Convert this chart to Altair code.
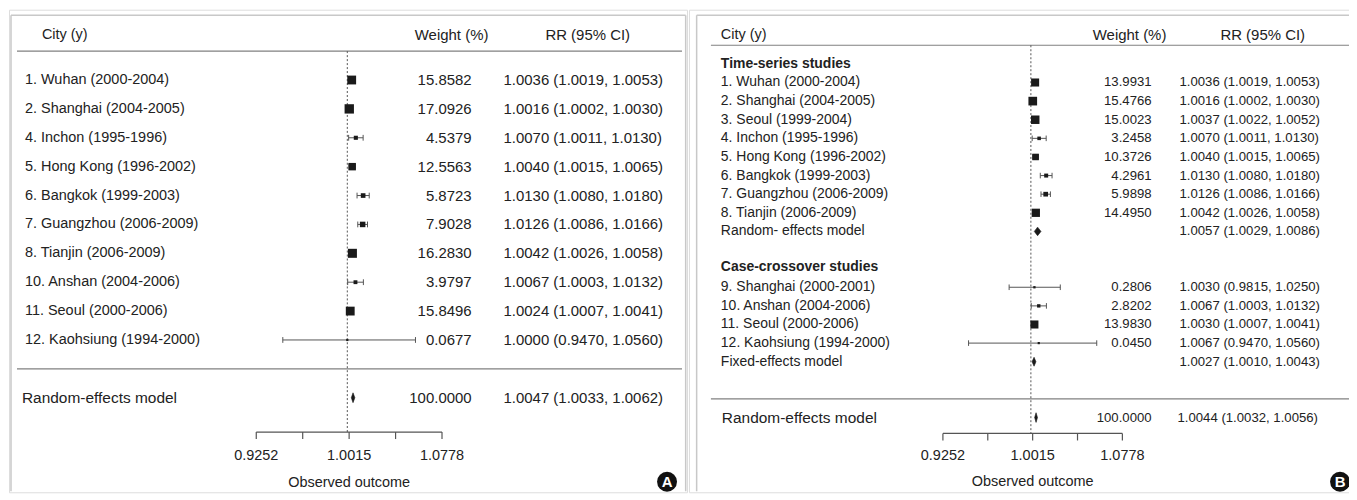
import altair as alt
import pandas as pd

FONT = "Liberation Sans, Arial, Helvetica, sans-serif"
INK = "#222222"
MARK = "#1a1a1a"
LINE = "#808080"
FRAME = "#c8c8c8"

# ---------------- shared texts ----------------
column_titles = ["City (y)", "Weight (%)", "RR (95% CI)"]
axis_ticks = [0.9252, 0.96335, 1.0015, 1.03965, 1.0778]
axis_tick_labels = ["0.9252", "", "1.0015", "", "1.0778"]
axis_title = "Observed outcome"
panel_letters = ["A", "B"]
null_value = 1.0

# ---------------- panel A ----------------
cities_a = ["1. Wuhan (2000-2004)", "2. Shanghai (2004-2005)", "4. Inchon (1995-1996)",
            "5. Hong Kong (1996-2002)", "6. Bangkok (1999-2003)", "7. Guangzhou (2006-2009)",
            "8. Tianjin (2006-2009)", "10. Anshan (2004-2006)", "11. Seoul (2000-2006)",
            "12. Kaohsiung (1994-2000)"]
weights_a = [15.8582, 17.0926, 4.5379, 12.5563, 5.8723, 7.9028, 16.2830, 3.9797, 15.8496, 0.0677]
rr_a = [1.0036, 1.0016, 1.0070, 1.0040, 1.0130, 1.0126, 1.0042, 1.0067, 1.0024, 1.0000]
lo_a = [1.0019, 1.0002, 1.0011, 1.0015, 1.0080, 1.0086, 1.0026, 1.0003, 1.0007, 0.9470]
hi_a = [1.0053, 1.0030, 1.0130, 1.0065, 1.0180, 1.0166, 1.0058, 1.0132, 1.0041, 1.0560]
overall_a_label = "Random-effects model"
overall_a_weight = 100.0
overall_a_rr = [1.0047, 1.0033, 1.0062]

# ---------------- panel B ----------------
groups_b = ["Time-series studies", "Case-crossover studies"]
cities_b1 = ["1. Wuhan (2000-2004)", "2. Shanghai (2004-2005)", "3. Seoul (1999-2004)",
             "4. Inchon (1995-1996)", "5. Hong Kong (1996-2002)", "6. Bangkok (1999-2003)",
             "7. Guangzhou (2006-2009)", "8. Tianjin (2006-2009)"]
weights_b1 = [13.9931, 15.4766, 15.0023, 3.2458, 10.3726, 4.2961, 5.9898, 14.4950]
rr_b1 = [1.0036, 1.0016, 1.0037, 1.0070, 1.0040, 1.0130, 1.0126, 1.0042]
lo_b1 = [1.0019, 1.0002, 1.0022, 1.0011, 1.0015, 1.0080, 1.0086, 1.0026]
hi_b1 = [1.0053, 1.0030, 1.0052, 1.0130, 1.0065, 1.0180, 1.0166, 1.0058]
cities_b2 = ["9. Shanghai (2000-2001)", "10. Anshan (2004-2006)", "11. Seoul (2000-2006)",
             "12. Kaohsiung (1994-2000)"]
weights_b2 = [0.2806, 2.8202, 13.9830, 0.0450]
rr_b2 = [1.0030, 1.0067, 1.0030, 1.0067]
lo_b2 = [0.9815, 1.0003, 1.0007, 0.9470]
hi_b2 = [1.0250, 1.0132, 1.0041, 1.0560]
models_b = ["Random- effects model", "Fixed-effects model"]
models_b_rr = [[1.0057, 1.0029, 1.0086], [1.0027, 1.0010, 1.0043]]
overall_b_label = "Random-effects model"
overall_b_weight = 100.0
overall_b_rr = [1.0044, 1.0032, 1.0056]


def fmt_rr(e, l, h):
    return f"{e:.4f} ({l:.4f}, {h:.4f})"


def studies(labels, w, e, l, h, rows):
    return pd.DataFrame({
        "label": labels, "w": w, "est": e, "lo": l, "hi": h, "row": rows,
        "wtxt": [f"{v:.4f}" for v in w],
        "rrtxt": [fmt_rr(a, b, c) for a, b, c in zip(e, l, h)],
    })


def diamond(name, rr, row, half):
    e, l, h = rr
    return pd.DataFrame({"m": [name] * 3, "x": [l, e, h],
                         "yt": [row, row - half, row], "yb": [row, row + half, row]})


ONE = pd.DataFrame({"k": [0]})
H = 484


def panel(P):
    xs = alt.Scale(domain=P["xdom"], nice=False, zero=False)
    ys = alt.Scale(domain=P["ydom"], nice=False, zero=False, reverse=True)

    def X(f):
        return alt.X(f, type="quantitative", scale=xs, axis=None)

    def Y(f):
        return alt.Y(f, type="quantitative", scale=ys, axis=None)

    def XD(v):
        return alt.XDatum(v, type="quantitative", scale=xs, axis=None)

    def YD(v):
        return alt.YDatum(v, type="quantitative", scale=ys, axis=None)

    layers = []
    # frame
    fr = alt.Chart(ONE).mark_rule(color=FRAME, strokeWidth=1.5)
    layers.append(fr.encode(x=alt.value(P["bl"]), y=alt.value(P["bt"]), y2=alt.value(H - 1)))
    layers.append(fr.encode(x=alt.value(P["bl"]), x2=alt.value(P["br"]), y=alt.value(P["bt"])))
    if P["right_frame"]:
        layers.append(fr.encode(x=alt.value(P["br"]), y=alt.value(P["bt"]), y2=alt.value(H - 1)))
    # header line and separator
    hl = alt.Chart(ONE).mark_rule(color=LINE, strokeWidth=1.2)
    for r in (P["r_hline"], P["r_sep"]):
        layers.append(hl.encode(x=alt.value(P["lx0"]), x2=alt.value(P["lx1"]), y=YD(r)))
    # null line
    layers.append(alt.Chart(ONE).mark_rule(color="#555555", strokeWidth=1, strokeDash=[2, 2]).encode(
        x=XD(null_value), y=YD(P["r_hline"]), y2=alt.Y2Datum(P["r_axis"])))

    df = P["df"]
    # whiskers + caps
    layers.append(alt.Chart(df).mark_rule(color="#555555", strokeWidth=1).encode(
        x=X("lo"), x2=alt.X2("hi"), y=Y("row")))
    layers.append(alt.Chart(df).transform_fold(["lo", "hi"], as_=["end", "xv"]).transform_calculate(
        y0=f"datum.row - {P['cap']}", y1=f"datum.row + {P['cap']}").mark_rule(
        color="#555555", strokeWidth=1).encode(x=X("xv"), y=Y("y0"), y2=alt.Y2("y1")))
    # squares
    layers.append(alt.Chart(df).transform_calculate(sz="pow(2.2 + 0.42*datum.w, 2)").mark_square(
        color=MARK, opacity=1).encode(x=X("est"), y=Y("row"),
                                      size=alt.Size("sz:Q", scale=None, legend=None)))
    # diamonds
    layers.append(alt.Chart(P["dia"]).mark_area(orient="vertical", color=MARK, opacity=1,
                                                 stroke=MARK, strokeWidth=0.6).encode(
        x=X("x"), y=Y("yt"), y2=alt.Y2("yb"), detail="m:N"))

    # column headers
    for txt, px, fs in zip(column_titles, P["hx"], P["hfs"]):
        layers.append(alt.Chart(pd.DataFrame({"t": [txt]})).mark_text(
            align="left", baseline="middle", font=FONT, fontSize=fs, color=INK).encode(
            x=alt.value(px), y=YD(P["r_head"]), text="t:N"))
    # study texts
    layers.append(alt.Chart(df).mark_text(align="left", baseline="middle", font=FONT,
                                          fontSize=P["lfs"], color=INK).encode(
        x=alt.value(P["lab_x"]), y=Y("row"), text="label:N"))
    layers.append(alt.Chart(df).mark_text(align="right", baseline="middle", font=FONT,
                                          fontSize=P["nfs"], color=INK).encode(
        x=alt.value(P["w_x"]), y=Y("row"), text="wtxt:N"))
    layers.append(alt.Chart(df).mark_text(align="left", baseline="middle", font=FONT,
                                          fontSize=P["nfs"], color=INK).encode(
        x=alt.value(P["rr_x"]), y=Y("row"), text="rrtxt:N"))
    # model rows (inside panel)
    if P["models"] is not None:
        md = P["models"]
        layers.append(alt.Chart(md).mark_text(align="left", baseline="middle", font=FONT,
                                              fontSize=P["lfs"], color=INK).encode(
            x=alt.value(P["lab_x"]), y=Y("row"), text="label:N"))
        layers.append(alt.Chart(md).mark_text(align="left", baseline="middle", font=FONT,
                                              fontSize=P["nfs"], color=INK).encode(
            x=alt.value(P["rr_x"]), y=Y("row"), text="rrtxt:N"))
    if P["groups"] is not None:
        layers.append(alt.Chart(P["groups"]).mark_text(align="left", baseline="middle", font=FONT,
                                                       fontSize=P["lfs"], fontWeight="bold",
                                                       color=INK).encode(
            x=alt.value(P["lab_x"]), y=Y("row"), text="label:N"))
    # overall row
    ov = P["overall"]
    layers.append(alt.Chart(ov).mark_text(align="left", baseline="middle", font=FONT,
                                          fontSize=15.5, color=INK).encode(
        x=alt.value(P["ov_x"]), y=Y("row"), text="label:N"))
    layers.append(alt.Chart(ov).mark_text(align="right", baseline="middle", font=FONT,
                                          fontSize=P["nfs"], color=INK).encode(
        x=alt.value(P["w_x"]), y=Y("row"), text="wtxt:N"))
    layers.append(alt.Chart(ov).mark_text(align="left", baseline="middle", font=FONT,
                                          fontSize=P["nfs"], color=INK).encode(
        x=alt.value(P["ovrr_x"]), y=Y("row"), text="rrtxt:N"))

    # axis
    ax = "#555555"
    layers.append(alt.Chart(ONE).mark_rule(color=ax, strokeWidth=1.2).encode(
        x=XD(axis_ticks[0]), x2=alt.X2Datum(axis_ticks[-1]), y=YD(P["r_axis"])))
    tdf = pd.DataFrame({"t": axis_ticks, "lab": axis_tick_labels})
    layers.append(alt.Chart(tdf).mark_rule(color=ax, strokeWidth=1.2).encode(
        x=X("t"), y=YD(P["r_axis"]), y2=alt.Y2Datum(P["r_tick"])))
    layers.append(alt.Chart(tdf).mark_text(baseline="middle", font=FONT, fontSize=14.5,
                                           color=INK).encode(
        x=X("t"), y=YD(P["r_lab"]), text="lab:N"))
    layers.append(alt.Chart(pd.DataFrame({"t": [axis_title]})).mark_text(
        baseline="middle", font=FONT, fontSize=14.5, color=INK).encode(
        x=XD(axis_ticks[2]), y=YD(P["r_title"]), text="t:N"))

    # panel letter
    let = pd.DataFrame({"t": [P["letter"]]})
    layers.append(alt.Chart(let).mark_circle(size=400, color="#111111", opacity=1).encode(
        x=alt.value(P["cx"]), y=alt.value(P["cy"])))
    layers.append(alt.Chart(let).mark_text(font=FONT, fontSize=15, fontWeight="bold",
                                           color="white", baseline="middle").encode(
        x=alt.value(P["cx"]), y=alt.value(P["cy"] + 0.5), text="t:N"))

    return alt.layer(*layers).properties(width=P["width"], height=H)


# ---- panel A layout ----
df_a = studies(cities_a, weights_a, rr_a, lo_a, hi_a, list(range(1, 11)))
ov_a = pd.DataFrame({"label": [overall_a_label], "row": [12],
                     "wtxt": [f"{overall_a_weight:.4f}"], "rrtxt": [fmt_rr(*overall_a_rr)]})
PA = dict(
    width=680, xdom=[0.72205, 1.27906], ydom=[-1.4336, 15.2734],
    bl=2, bt=5.5, br=678.7, right_frame=True, lx0=8, lx1=675,
    r_hline=0, r_sep=11, r_head=-0.57, r_axis=13.19, r_tick=13.43, r_lab=14.03, r_title=14.96,
    cap=0.1, df=df_a, dia=diamond("ov", overall_a_rr, 12, 0.17),
    hx=[33, 407, 538], hfs=[14.5, 15, 15], lfs=14.5, nfs=15,
    lab_x=16, w_x=464, rr_x=496, models=None, groups=None,
    overall=ov_a, ov_x=13, ovrr_x=496, letter=panel_letters[0], cx=660, cy=473.5,
)

# ---- panel B layout ----
rows_b1 = list(range(1, 9))
rows_b2 = list(range(12, 16))
df_b = pd.concat([studies(cities_b1, weights_b1, rr_b1, lo_b1, hi_b1, rows_b1),
                  studies(cities_b2, weights_b2, rr_b2, lo_b2, hi_b2, rows_b2)], ignore_index=True)
model_rows = [9, 16]
md_b = pd.DataFrame({"label": models_b, "row": model_rows,
                     "rrtxt": [fmt_rr(*m) for m in models_b_rr]})
grp_b = pd.DataFrame({"label": groups_b, "row": [0, 10.9]})
ov_b = pd.DataFrame({"label": [overall_b_label], "row": [19],
                     "wtxt": [f"{overall_b_weight:.4f}"], "rrtxt": [fmt_rr(*overall_b_rr)]})
dia_b = pd.concat([diamond("m0", models_b_rr[0], model_rows[0], 0.23),
                   diamond("m1", models_b_rr[1], model_rows[1], 0.24),
                   diamond("ov", overall_b_rr, 19, 0.26)], ignore_index=True)
PB = dict(
    width=669, xdom=[0.70928, 1.27642], ydom=[-2.910, 23.014],
    bl=7.7, bt=5.5, br=668, right_frame=False, lx0=22, lx1=668,
    r_hline=-1, r_sep=18, r_head=-1.571, r_axis=19.85, r_tick=20.23, r_lab=21.09, r_title=22.48,
    cap=0.15, df=df_b, dia=dia_b,
    hx=[32, 405, 533], hfs=[14.5, 15, 15], lfs=14, nfs=13.2,
    lab_x=32, w_x=464, rr_x=492, models=md_b, groups=grp_b,
    overall=ov_b, ov_x=33, ovrr_x=490, letter=panel_letters[1], cx=653, cy=473.5,
)

chart = alt.hconcat(panel(PA), panel(PB), spacing=0,
                    padding={"left": 0, "top": 0, "right": -8, "bottom": 0}).configure_view(
    strokeWidth=0).configure(background="white")

chart.save("out.html", embed_options={"renderer": "svg", "actions": False})
